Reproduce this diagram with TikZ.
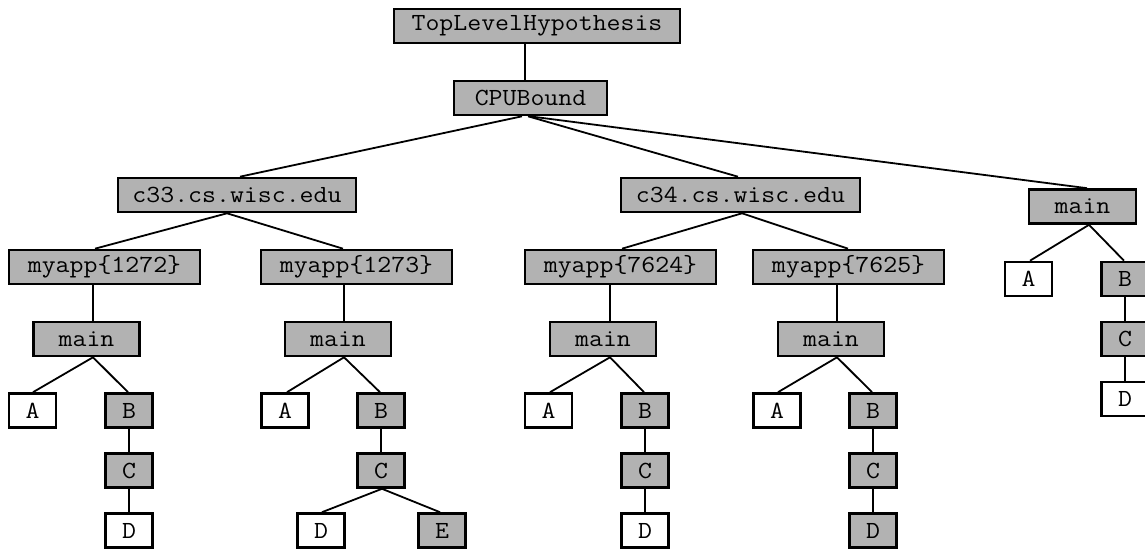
\documentclass[tikz,border=0pt]{standalone}
\usepackage{fontspec}
\setmonofont[FakeStretch=1.1]{Latin Modern Mono}
\newcommand\treelink[4]{\draw[edge] ([xshift=#2*0.5pt]#1.south) -- ([xshift=#4*0.5pt]#3.north);}
\begin{document}
\begin{tikzpicture}[x=0.5pt,y=-0.5pt,
  box/.style={draw, line width=1.3pt, minimum height=17pt, inner sep=0pt,
    font=\fontsize{12.3}{14}\selectfont\ttfamily},
  hot/.style={box, fill=black!30},
  cold/.style={box, fill=white},
  edge/.style={line width=0.9pt}]
\useasboundingbox (0,0) rectangle (1145,550);

% root and first level
\node[hot, minimum width=143pt] (top) at (537,26) {TopLevelHypothesis};
\node[hot, minimum width=76.5pt] (cpu) at (530.5,98) {CPUBound};

% hosts and the global main
\node[hot, minimum width=119pt] (h33) at (237,195) {c33.cs.wisc.edu};
\node[hot, minimum width=119.5pt] (h34) at (740.5,195) {c34.cs.wisc.edu};
\node[hot, minimum width=53.5pt] (rmain) at (1082.5,206.5) {main};

% processes
\node[hot, minimum width=95.5pt] (p1) at (104.5,267) {myapp\{1272\}};
\node[hot, minimum width=95.5pt] (p2) at (356.5,267) {myapp\{1273\}};
\node[hot, minimum width=95.5pt] (p3) at (620.5,267) {myapp\{7624\}};
\node[hot, minimum width=95.5pt] (p4) at (848.5,267) {myapp\{7625\}};

% per-process main
\node[hot, minimum width=53pt] (m1) at (86.5,339) {main};
\node[hot, minimum width=53pt] (m2) at (338,339) {main};
\node[hot, minimum width=53pt] (m3) at (603,339) {main};
\node[hot, minimum width=53pt] (m4) at (831,339) {main};

% functions under process 1272
\node[cold, minimum width=23.5pt] (a1) at (32.5,410.5) {A};
\node[hot,  minimum width=23.5pt] (b1) at (129,410.5) {B};
\node[hot,  minimum width=23.5pt] (c1) at (129,470.5) {C};
\node[cold, minimum width=23.5pt] (d1) at (129,530.5) {D};

% functions under process 1273
\node[cold, minimum width=23.5pt] (a2) at (285,410.5) {A};
\node[hot,  minimum width=23.5pt] (b2) at (381,410.5) {B};
\node[hot,  minimum width=23.5pt] (c2) at (381,470.5) {C};
\node[cold, minimum width=23.5pt] (d2) at (321,530.5) {D};
\node[hot,  minimum width=23.5pt] (e2) at (442,530.5) {E};

% functions under process 7624
\node[cold, minimum width=23.5pt] (a3) at (548.5,410.5) {A};
\node[hot,  minimum width=23.5pt] (b3) at (645,410.5) {B};
\node[hot,  minimum width=23.5pt] (c3) at (645,470.5) {C};
\node[cold, minimum width=23.5pt] (d3) at (645,530.5) {D};

% functions under process 7625
\node[cold, minimum width=23.5pt] (a4) at (777,410.5) {A};
\node[hot,  minimum width=23.5pt] (b4) at (873,410.5) {B};
\node[hot,  minimum width=23.5pt] (c4) at (873,470.5) {C};
\node[hot,  minimum width=23.5pt] (d4) at (873,530.5) {D};

% functions under the global main
\node[cold, minimum width=23.5pt] (ra) at (1028.5,279) {A};
\node[hot,  minimum width=23.5pt] (rb) at (1125,279) {B};
\node[hot,  minimum width=23.5pt] (rc) at (1125,339) {C};
\node[cold, minimum width=23.5pt] (rd) at (1125,399) {D};

% connectors
\treelink{top}{-12}{cpu}{-5.5}
\treelink{cpu}{-8.5}{h33}{3}
\treelink{cpu}{-2.5}{h34}{-2.5}
\treelink{cpu}{-1}{rmain}{4.5}

\treelink{h33}{-10}{p1}{-9.5}
\treelink{h33}{-10}{p2}{-13.5}
\treelink{h34}{1.5}{p3}{1.5}
\treelink{h34}{1.5}{p4}{-0.5}

\treelink{p1}{-11.5}{m1}{6.5}
\treelink{p2}{-12.5}{m2}{6}
\treelink{p3}{-10.5}{m3}{7}
\treelink{p4}{-11.5}{m4}{6}

\treelink{m1}{6.5}{a1}{0.5}
\treelink{m1}{6.5}{b1}{-1}
\treelink{m2}{6}{a2}{2}
\treelink{m2}{6}{b2}{-1}
\treelink{m3}{7}{a3}{1.5}
\treelink{m3}{7}{b3}{-1}
\treelink{m4}{6}{a4}{1}
\treelink{m4}{6}{b4}{-1}
\treelink{rmain}{6.5}{ra}{1.5}
\treelink{rmain}{6.5}{rb}{-1}

\treelink{b1}{0}{c1}{0}
\treelink{c1}{0}{d1}{0}
\treelink{b2}{0}{c2}{0}
\treelink{c2}{1}{d2}{1}
\treelink{c2}{1}{e2}{-2}
\treelink{b3}{0}{c3}{0}
\treelink{c3}{0}{d3}{0}
\treelink{b4}{0}{c4}{0}
\treelink{c4}{0}{d4}{0}
\treelink{rb}{0}{rc}{0}
\treelink{rc}{0}{rd}{0}
\end{tikzpicture}
\end{document}
